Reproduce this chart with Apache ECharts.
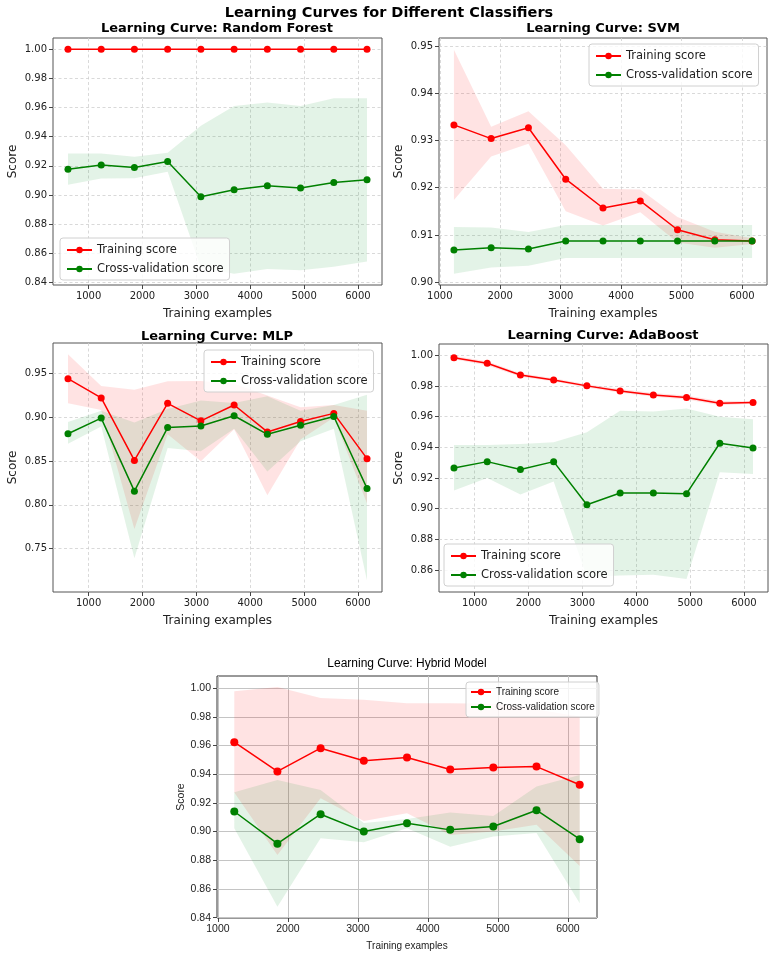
<!DOCTYPE html>
<html><head><meta charset="utf-8">
<script src="https://cdn.jsdelivr.net/npm/echarts@6.0.0/dist/echarts.min.js"></script>
<style>html,body{margin:0;padding:0;background:#fff}#c{width:778px;height:957px}</style>
</head><body><div id="c"></div>
<script>
// ---------- data ----------
const sizesFull = [617, 1234, 1850, 2467, 3084, 3701, 4318, 4934, 5551, 6168];
const sizesShort = [1234, 1850, 2467, 3084, 3701, 4318, 4934, 5551, 6168];

const rfTrain   = [1, 1, 1, 1, 1, 1, 1, 1, 1, 1];
const rfTrainHi = [1, 1, 1, 1, 1, 1, 1, 1, 1, 1];
const rfTrainLo = [1, 1, 1, 1, 1, 1, 1, 1, 1, 1];
const rfCv   = [0.9177, 0.9205, 0.9189, 0.9230, 0.8987, 0.9035, 0.9063, 0.9047, 0.9086, 0.9104];
const rfCvHi = [0.9285, 0.9285, 0.9262, 0.9290, 0.9474, 0.9611, 0.9634, 0.9611, 0.9664, 0.9664];
const rfCvLo = [0.9070, 0.9113, 0.9115, 0.9159, 0.8500, 0.8459, 0.8492, 0.8483, 0.8508, 0.8544];

const svmTrain   = [0.9333, 0.9304, 0.9327, 0.9218, 0.9157, 0.9172, 0.9111, 0.9090, 0.9087];
const svmTrainHi = [0.9492, 0.9329, 0.9362, 0.9290, 0.9198, 0.9196, 0.9138, 0.9107, 0.9093];
const svmTrainLo = [0.9174, 0.9266, 0.9293, 0.9150, 0.9120, 0.9148, 0.9084, 0.9073, 0.9081];
const svmCv   = [0.9068, 0.9073, 0.9070, 0.9087, 0.9087, 0.9087, 0.9087, 0.9087, 0.9087];
const svmCvHi = [0.9117, 0.9116, 0.9106, 0.9121, 0.9121, 0.9121, 0.9121, 0.9121, 0.9121];
const svmCvLo = [0.9018, 0.9031, 0.9035, 0.9051, 0.9051, 0.9051, 0.9051, 0.9051, 0.9051];

const mlpTrain   = [0.9442, 0.9222, 0.8508, 0.9160, 0.8960, 0.9141, 0.8833, 0.8952, 0.9045, 0.8528];
const mlpTrainHi = [0.9720, 0.9357, 0.9315, 0.9411, 0.9415, 0.9384, 0.9249, 0.9114, 0.9141, 0.9076];
const mlpTrainLo = [0.9160, 0.9083, 0.7725, 0.8806, 0.8497, 0.8863, 0.8111, 0.8748, 0.8998, 0.8015];
const mlpCv   = [0.8813, 0.8991, 0.8157, 0.8883, 0.8902, 0.9018, 0.8806, 0.8910, 0.9010, 0.8188];
const mlpCvHi = [0.8948, 0.9076, 0.8941, 0.9095, 0.9191, 0.9164, 0.9242, 0.9076, 0.9141, 0.9257];
const mlpCvLo = [0.8698, 0.8894, 0.7390, 0.8651, 0.8613, 0.8871, 0.8381, 0.8728, 0.8871, 0.7135];

const adaTrain   = [0.9985, 0.9948, 0.9872, 0.9840, 0.9801, 0.9768, 0.9742, 0.9725, 0.9688, 0.9693];
const adaTrainHi = [0.9995, 0.9962, 0.9884, 0.9850, 0.9812, 0.9780, 0.9754, 0.9738, 0.9702, 0.9702];
const adaTrainLo = [0.9975, 0.9934, 0.9860, 0.9830, 0.9790, 0.9756, 0.9730, 0.9712, 0.9674, 0.9684];
const adaCv   = [0.9266, 0.9307, 0.9256, 0.9307, 0.9026, 0.9102, 0.9102, 0.9098, 0.9427, 0.9396];
const adaCvHi = [0.9416, 0.9416, 0.9422, 0.9433, 0.9498, 0.9639, 0.9634, 0.9654, 0.9600, 0.9584];
const adaCvLo = [0.9119, 0.9200, 0.9093, 0.9178, 0.8554, 0.8565, 0.8570, 0.8542, 0.9238, 0.9227];

const hybTrain   = [0.9623, 0.9419, 0.9581, 0.9493, 0.9516, 0.9433, 0.9447, 0.9453, 0.9326];
const hybTrainHi = [0.9977, 1.0007, 0.9930, 0.9919, 0.9895, 0.9895, 0.9890, 0.9850, 0.9802];
const hybTrainLo = [0.9272, 0.8837, 0.9233, 0.9074, 0.9128, 0.8977, 0.9000, 0.9047, 0.8760];
const hybCv   = [0.9140, 0.8916, 0.9121, 0.9000, 0.9058, 0.9012, 0.9035, 0.9149, 0.8947];
const hybCvHi = [0.9274, 0.9360, 0.9290, 0.9060, 0.9088, 0.9133, 0.9109, 0.9314, 0.9395];
const hybCvLo = [0.9023, 0.8477, 0.8953, 0.8926, 0.9023, 0.8895, 0.8965, 0.8990, 0.8500];

// tick labels
const xTicksFull  = [1000, 2000, 3000, 4000, 5000, 6000];
const xTicksShort = [1000, 2000, 3000, 4000, 5000, 6000];
const rfYTicks  = [0.84, 0.86, 0.88, 0.90, 0.92, 0.94, 0.96, 0.98, 1.00];
const svmYTicks = [0.90, 0.91, 0.92, 0.93, 0.94, 0.95];
const mlpYTicks = [0.70, 0.75, 0.80, 0.85, 0.90, 0.95];
const adaYTicks = [0.86, 0.88, 0.90, 0.92, 0.94, 0.96, 0.98, 1.00];
const hybYTicks = [0.84, 0.86, 0.88, 0.90, 0.92, 0.94, 0.96, 0.98, 1.00];

const titles = ['Learning Curve: Random Forest', 'Learning Curve: SVM', 'Learning Curve: MLP', 'Learning Curve: AdaBoost', 'Learning Curve: Hybrid Model'];
const legendNames = ['Training score', 'Cross-validation score'];

// ---------- layout / style ----------
const FONT = 'DejaVu Sans';
const HFONT = "'Liberation Sans', 'DejaVu Sans'";
const panels = [
  {id:'rf', grid:{left:53, top:38, width:329, height:247}, x:sizesFull, tr:rfTrain, trHi:rfTrainHi, trLo:rfTrainLo, cv:rfCv, cvHi:rfCvHi, cvLo:rfCvLo,
   xr:[339, 6446], yr:[0.8382, 1.0077], xt:xTicksFull, yt:rfYTicks, legend:{left:60, top:238}, title:{x:217, y:22}, hybrid:false},
  {id:'svm', grid:{left:439, top:38, width:328, height:247}, x:sizesShort, tr:svmTrain, trHi:svmTrainHi, trLo:svmTrainLo, cv:svmCv, cvHi:svmCvHi, cvLo:svmCvLo,
   xr:[987, 6415], yr:[0.8994, 0.9517], xt:xTicksShort, yt:svmYTicks, legend:{left:589, top:44}, title:{x:603, y:22}, hybrid:false},
  {id:'mlp', grid:{left:53, top:343, width:329, height:249}, x:sizesFull, tr:mlpTrain, trHi:mlpTrainHi, trLo:mlpTrainLo, cv:mlpCv, cvHi:mlpCvHi, cvLo:mlpCvLo,
   xr:[339, 6446], yr:[0.7005, 0.9849], xt:xTicksFull, yt:mlpYTicks, legend:{left:204, top:350}, title:{x:217, y:330}, hybrid:false},
  {id:'ada', grid:{left:439, top:344, width:329, height:248}, x:sizesFull, tr:adaTrain, trHi:adaTrainHi, trLo:adaTrainLo, cv:adaCv, cvHi:adaCvHi, cvLo:adaCvLo,
   xr:[339, 6446], yr:[0.8457, 1.0074], xt:xTicksFull, yt:adaYTicks, legend:{left:444, top:544}, title:{x:603, y:329}, hybrid:false},
  {id:'hyb', grid:{left:217, top:676, width:380, height:242}, x:sizesShort, tr:hybTrain, trHi:hybTrainHi, trLo:hybTrainLo, cv:hybCv, cvHi:hybCvHi, cvLo:hybCvLo,
   xr:[987, 6415], yr:[0.8398, 1.0084], xt:xTicksShort, yt:hybYTicks, legend:{left:466, top:682}, title:{x:407, y:658}, hybrid:true}
];

const grids = [], xAxes = [], yAxes = [], series = [], legends = [];
const titleArr = [{
  text: 'Learning Curves for Different Classifiers', left: 389, top: 6, textAlign: 'center', padding: 0,
  textStyle: {fontFamily: FONT, fontWeight: 'bold', fontSize: 14.5, color: '#000'}
}];

function bandSeries(i, xs, lo, hi, color, name) {
  return {
    name: name, type: 'custom', xAxisIndex: i, yAxisIndex: i, silent: true, z: 1,
    data: xs.map((x, k) => [x, lo[k], hi[k]]),
    encode: {x: 0, y: [1, 2]},
    renderItem: function (params, api) {
      if (params.dataIndex !== 0) return null;
      const pts = [];
      for (let k = 0; k < xs.length; k++) pts.push(api.coord([xs[k], hi[k]]));
      for (let k = xs.length - 1; k >= 0; k--) pts.push(api.coord([xs[k], lo[k]]));
      return {type: 'polygon', shape: {points: pts}, style: {fill: color, stroke: null}};
    }
  };
}

panels.forEach((p, i) => {
  const h = p.hybrid;
  const ff = h ? HFONT : FONT;
  grids.push(Object.assign({show:true, borderColor: h ? '#333' : '#555', borderWidth: 1, backgroundColor:'transparent', containLabel:false}, p.grid));
  const split = h ? {show:true, lineStyle:{color:'#c4c4c4', width:1, type:'solid'}}
                  : {show:true, lineStyle:{color:'#cfcfcf', width:0.8, type:[3,2.5]}};
  xAxes.push({
    type:'value', gridIndex:i, min:p.xr[0], max:p.xr[1],
    axisLine:{show:false},
    axisTick:{show:true, length:4, inside:false, lineStyle:{color:'#444'}, customValues:p.xt},
    axisLabel:{customValues:p.xt, margin:6, fontFamily:ff, fontSize: h ? 10.5 : 10, color:'#222', formatter: v => String(Math.round(v))},
    splitLine: split,
    name:'Training examples', nameLocation:'middle', nameGap: 23,
    nameTextStyle:{fontFamily:ff, fontSize: h ? 10 : 12, color:'#222'}
  });
  yAxes.push({
    type:'value', gridIndex:i, min:p.yr[0], max:p.yr[1],
    axisLine:{show:false},
    axisTick:{show:true, length:4, inside:false, lineStyle:{color:'#444'}, customValues:p.yt},
    axisLabel:{customValues:p.yt, margin:6, fontFamily:ff, fontSize: h ? 10.5 : 10, color:'#222', formatter: v => v.toFixed(2)},
    splitLine: split,
    name:'Score', nameLocation:'middle', nameGap: h ? 29 : 34, nameRotate:90,
    nameTextStyle:{fontFamily:ff, fontSize: h ? 10.5 : 12, color:'#222'}
  });
  series.push(bandSeries(i, p.x, p.trLo, p.trHi, 'rgba(255,0,0,0.11)', p.id + 'TrainBand'));
  series.push(bandSeries(i, p.x, p.cvLo, p.cvHi, 'rgba(0,150,40,0.11)', p.id + 'CvBand'));
  [[legendNames[0], p.tr, '#ff0000'], [legendNames[1], p.cv, '#008000']].forEach(([nm, arr, col]) => {
    series.push({
      name:nm, type:'line', xAxisIndex:i, yAxisIndex:i, symbol:'circle', symbolSize: h ? 8 : 7,
      lineStyle:{color:col, width:1.5}, itemStyle:{color:col}, data: p.x.map((x, k) => [x, arr[k]]), z:3
    });
  });
  legends.push({
    left:p.legend.left, top:p.legend.top, orient:'vertical', align:'left',
    data:legendNames, itemWidth: h ? 20 : 25, itemHeight: 8, itemGap: h ? 5 : 7,
    padding: h ? [5, 4, 5, 4] : [6, 6, 5, 6],
    backgroundColor:'rgba(255,255,255,0.8)', borderColor:'#d0d0d0', borderWidth:1, borderRadius:3,
    textStyle:{fontFamily:ff, fontSize: h ? 10 : 11.5, color:'#222'},
    selectedMode:false
  });
  titleArr.push({
    text:titles[i], left:p.title.x, top:p.title.y, textAlign:'center', padding:0,
    textStyle:{fontFamily:ff, fontWeight: h ? 'normal' : 'bold', fontSize: h ? 12 : 13, color:'#000'}
  });
});

const chart = echarts.init(document.getElementById('c'), null, {renderer:'canvas'});
chart.setOption({
  animation:false,
  backgroundColor:'#fff',
  title:titleArr,
  grid:grids, xAxis:xAxes, yAxis:yAxes, legend:legends, series:series
});
</script>
</body></html>
